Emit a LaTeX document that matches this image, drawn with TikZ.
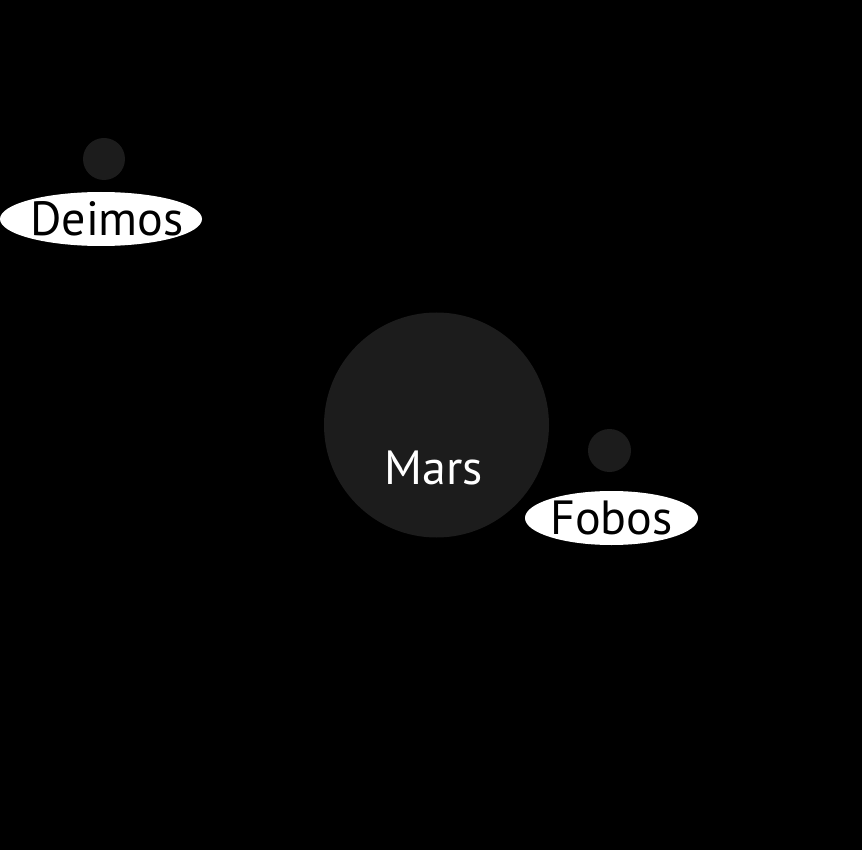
\documentclass[tikz,border=0pt]{standalone}
\usepackage{fontspec}
\setmainfont{PT Sans}
\usetikzlibrary{shapes.geometric}
\definecolor{bodygray}{HTML}{1C1C1C}
\tikzstyle{planet} = [circle, fill=bodygray, inner sep=0pt]
\tikzstyle{tag} = [ellipse, fill=white, inner sep=0pt, text=black, font=\fontsize{48}{54}\selectfont]
\tikzstyle{bodylabel} = [text=white, inner sep=0pt, anchor=base, font=\fontsize{48}{54}\selectfont]

\begin{document}
\begin{tikzpicture}[x=1pt, y=-1pt]
				\fill[black] (0,0) rectangle (862,850);
				\useasboundingbox (0,0) rectangle (862,850);
				\node (mars) [planet, minimum size=225pt] at (436.5,425) {};
				\node (marslabel) [bodylabel] at (434,484) {Mars};
				\node (deimos) [planet, minimum size=42pt] at (104,159) {};
				\node (deimostag) [tag, minimum width=202pt, minimum height=54pt] at (101,219) {\makebox[0pt]{\hspace*{12pt}Deimos}};
				\node (fobos) [planet, minimum size=43pt] at (609.5,450.5) {};
				\node (fobostag) [tag, minimum width=173pt, minimum height=54pt] at (611.5,518) {\makebox[0pt]{Fobos}};
\end{tikzpicture}
\end{document}
